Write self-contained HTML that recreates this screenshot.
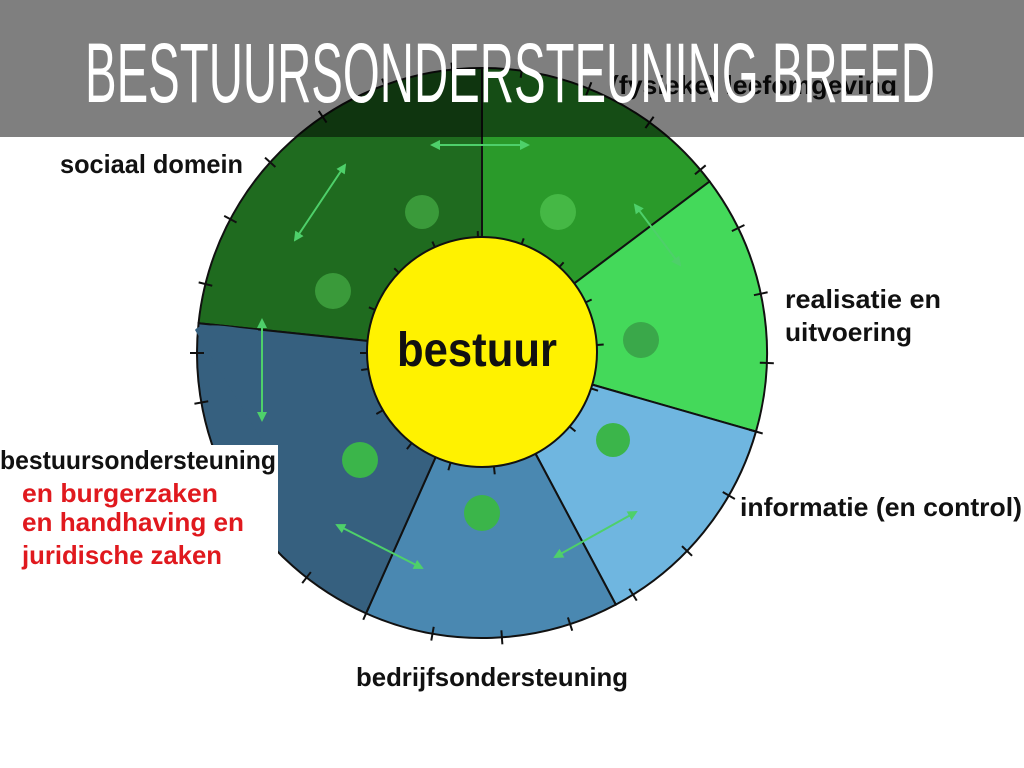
<!DOCTYPE html>
<html><head><meta charset="utf-8">
<style>
html,body{margin:0;padding:0;background:#fff;width:1024px;height:768px;overflow:hidden}
svg{display:block}
.lb{font-family:"Liberation Sans",sans-serif;font-weight:bold;font-size:26px;fill:#111}
.rd{fill:#e0191e}
</style></head><body>
<svg id="s" width="1024" height="768" viewBox="0 0 1024 768" xmlns="http://www.w3.org/2000/svg">
<defs>
<marker id="ah" viewBox="0 0 10 10" refX="8" refY="5" markerWidth="5" markerHeight="5" orient="auto-start-reverse"><path d="M0,0 L10,5 L0,10 z" fill="#4ed06a"/></marker>
</defs>
<g id="wedges"></g>
<path d="M195,330 Q200,322 240,328 L258,330 L262,420 L270,340 Q285,335 330,340 Q362,345 368,365 L420,470 L280,470 Z" fill="#36607f"/>
<g id="ticks" stroke="#111" stroke-width="2"></g>
<rect x="0" y="445" width="278" height="155" fill="#fff"/>
<circle cx="482" cy="352" r="115" fill="#fff200" stroke="#111" stroke-width="2"/>
<g fill="#3bb54a">
<circle cx="422" cy="212" r="17" fill="#3a9a3a"/><circle cx="558" cy="212" r="18" fill="#45b845"/>
<circle cx="333" cy="291" r="18" fill="#3a9a3a"/><circle cx="641" cy="340" r="18" fill="#3aa84a"/>
<circle cx="613" cy="440" r="17"/><circle cx="360" cy="460" r="18"/><circle cx="482" cy="513" r="18"/>
</g>
<g stroke="#4ed06a" stroke-width="2" marker-start="url(#ah)" marker-end="url(#ah)">
<line x1="432" y1="145" x2="528" y2="145"/>
<line x1="295" y1="240" x2="345" y2="165"/>
<line x1="635" y1="205" x2="680" y2="265"/>
<line x1="262" y1="320" x2="262" y2="420"/>
<line x1="337" y1="525" x2="422" y2="568"/>
<line x1="555" y1="557" x2="636" y2="512"/>
</g>
<text x="477" y="366" textLength="160" lengthAdjust="spacingAndGlyphs" text-anchor="middle" font-family="Liberation Sans,sans-serif" font-weight="bold" font-size="48" fill="#111">bestuur</text>
<text class="lb" x="610" y="94" textLength="287" lengthAdjust="spacingAndGlyphs">(fysieke) leefomgeving</text>
<rect x="0" y="0" width="1024" height="137" fill="rgba(0,0,0,0.5)"/>
<text x="85" y="102" textLength="850" lengthAdjust="spacingAndGlyphs" font-family="Liberation Sans,sans-serif" font-size="84" fill="#fff">BESTUURSONDERSTEUNING BREED</text>
<text class="lb" x="60" y="173" textLength="183" lengthAdjust="spacingAndGlyphs">sociaal domein</text>
<text class="lb" x="785" y="308" textLength="156" lengthAdjust="spacingAndGlyphs">realisatie en</text>
<text class="lb" x="785" y="341" textLength="127" lengthAdjust="spacingAndGlyphs">uitvoering</text>
<text class="lb" x="740" y="516" textLength="282" lengthAdjust="spacingAndGlyphs">informatie (en control)</text>
<text class="lb" x="356" y="686" textLength="272" lengthAdjust="spacingAndGlyphs">bedrijfsondersteuning</text>
<text class="lb" x="0" y="469" textLength="276" lengthAdjust="spacingAndGlyphs">bestuursondersteuning</text>
<text class="lb rd" x="22" y="502" textLength="196" lengthAdjust="spacingAndGlyphs">en burgerzaken</text>
<text class="lb rd" x="22" y="531" textLength="222" lengthAdjust="spacingAndGlyphs">en handhaving en</text>
<text class="lb rd" x="22" y="564" textLength="200" lengthAdjust="spacingAndGlyphs">juridische zaken</text>
</svg>
<script>
var cx=482,cy=353,ri=112,ro=285,NS="http://www.w3.org/2000/svg";
function P(r,a){a=a*Math.PI/180;return [cx+r*Math.cos(a),cy+r*Math.sin(a)];}
var segs=[[-174,-90,"#1f6b1f"],[-90,-37,"#2a9a2a"],[-37,16,"#44d95a"],[16,62,"#6fb6e0"],[62,114,"#4a88b1"],[114,186,"#36607f"]];
var g=document.getElementById("wedges");
segs.forEach(function(s){var a=P(ro,s[0]),b=P(ro,s[1]),c=P(ri,s[1]),d=P(ri,s[0]);
var p=document.createElementNS(NS,"path");
p.setAttribute("d","M"+a+" A"+ro+","+ro+" 0 0 1 "+b+" L"+c+" A"+ri+","+ri+" 0 0 0 "+d+"Z");
p.setAttribute("fill",s[2]);p.setAttribute("stroke","#111");p.setAttribute("stroke-width","2");g.appendChild(p);});
var t=document.getElementById("ticks");
for(var a=-180;a<180;a+=14){var p1=P(ro-7,a),p2=P(ro+7,a),l=document.createElementNS(NS,"line");
l.setAttribute("x1",p1[0]);l.setAttribute("y1",p1[1]);l.setAttribute("x2",p2[0]);l.setAttribute("y2",p2[1]);t.appendChild(l);}
for(var a=-180;a<180;a+=22){var p1=P(ri-2,a),p2=P(ri+10,a),l=document.createElementNS(NS,"line");
l.setAttribute("x1",p1[0]);l.setAttribute("y1",p1[1]);l.setAttribute("x2",p2[0]);l.setAttribute("y2",p2[1]);t.appendChild(l);}
</script>
</body></html>
